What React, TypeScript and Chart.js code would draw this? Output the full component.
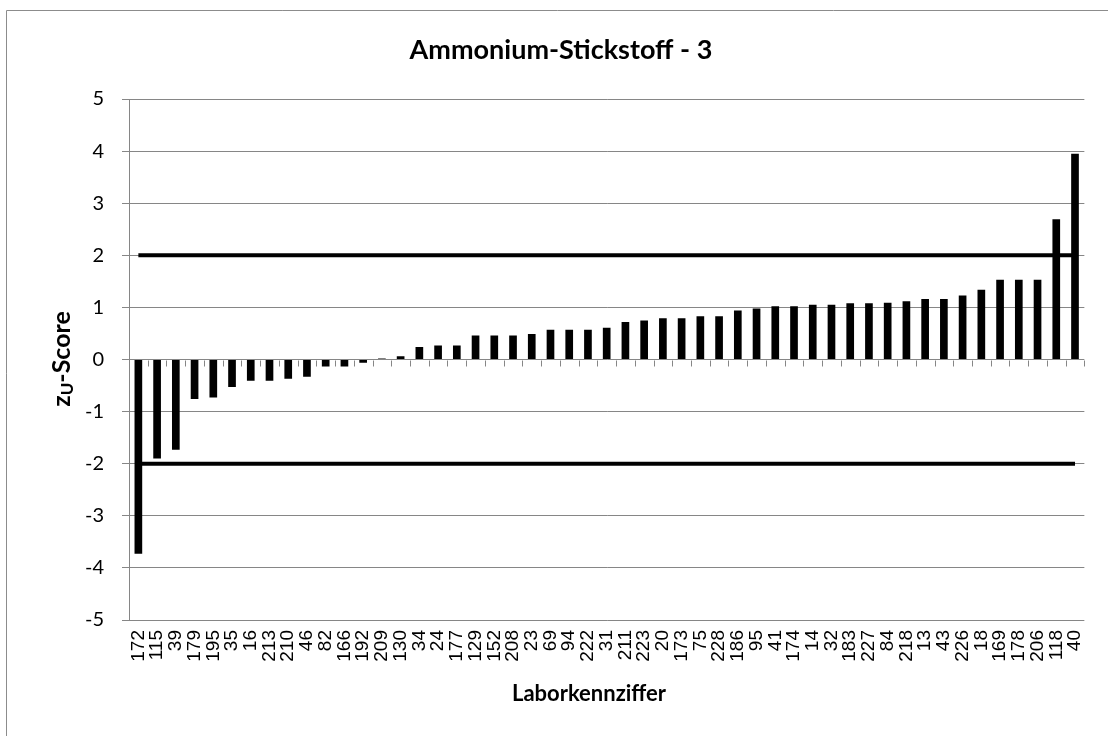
import React, { useEffect, useRef } from "react";
import { Chart, registerables } from "chart.js";

Chart.register(...registerables);

const chartTitle = "Ammonium-Stickstoff - 3";
const xAxisTitle = "Laborkennziffer";

const labCodes = [
  "172", "115", "39", "179", "195", "35", "16", "213", "210", "46",
  "82", "166", "192", "209", "130", "34", "24", "177", "129", "152",
  "208", "23", "69", "94", "222", "31", "211", "223", "20", "173",
  "75", "228", "186", "95", "41", "174", "14", "32", "183", "227",
  "84", "218", "13", "43", "226", "18", "169", "178", "206", "118", "40",
];

const zScores = [
  -3.73, -1.9, -1.73, -0.76, -0.73, -0.53, -0.41, -0.41, -0.37, -0.33,
  -0.135, -0.135, -0.06, 0.02, 0.06, 0.24, 0.27, 0.27, 0.46, 0.46,
  0.46, 0.49, 0.57, 0.57, 0.57, 0.61, 0.72, 0.75, 0.79, 0.79,
  0.83, 0.83, 0.94, 0.98, 1.02, 1.02, 1.05, 1.05, 1.08, 1.08,
  1.09, 1.12, 1.16, 1.16, 1.23, 1.34, 1.53, 1.53, 1.53, 2.69, 3.95,
];

const upperLimitValue = 2;
const lowerLimitValue = -2;
const yTicksMin = -5;
const yTicksMax = 5;

const upperLimit = labCodes.map(() => upperLimitValue);
const lowerLimit = labCodes.map(() => lowerLimitValue);

const decorPlugin = {
  id: "decor",
  beforeDatasetsDraw(chart: any) {
    const { ctx, chartArea, scales } = chart;
    const y0 = Math.round(scales.y.getPixelForValue(0)) + 0.5;
    const n = labCodes.length;
    const w = (chartArea.right - chartArea.left) / n;
    ctx.save();
    ctx.strokeStyle = "#868686";
    ctx.lineWidth = 1;
    ctx.beginPath();
    for (let i = 0; i <= n; i++) {
      const x = Math.round(chartArea.left + i * w) + 0.5;
      ctx.moveTo(x, y0);
      ctx.lineTo(x, y0 + 6);
    }
    ctx.stroke();
    ctx.restore();
  },
  afterDraw(chart: any) {
    const { ctx } = chart;
    ctx.save();
    // outer border
    ctx.strokeStyle = "#8c8c8c";
    ctx.lineWidth = 1;
    ctx.beginPath();
    ctx.moveTo(6.5, 740);
    ctx.lineTo(6.5, 10.5);
    ctx.lineTo(1110, 10.5);
    ctx.stroke();

    ctx.fillStyle = "#000";
    ctx.textAlign = "center";
    ctx.textBaseline = "alphabetic";
    ctx.font = "bold 27px Lato";
    ctx.fillText(chartTitle, 561, 59);
    ctx.font = "bold 22px Lato";
    ctx.fillText(xAxisTitle, 589, 701);

    // y-axis title with subscript
    ctx.translate(70, 359);
    ctx.rotate(-Math.PI / 2);
    const mainFont = "bold 25px Lato";
    const subFont = "bold 17px Lato";
    ctx.font = mainFont;
    const wz = ctx.measureText("z").width;
    const wRest = ctx.measureText("-Score").width;
    ctx.font = subFont;
    const wu = ctx.measureText("U").width;
    const total = wz + wu + wRest;
    let x = -total / 2;
    ctx.textAlign = "left";
    ctx.font = mainFont;
    ctx.fillText("z", x, 0);
    x += wz;
    ctx.font = subFont;
    ctx.fillText("U", x, 3);
    x += wu;
    ctx.font = mainFont;
    ctx.fillText("-Score", x, 0);
    ctx.restore();
  },
};

export default function App() {
  const ref = useRef<HTMLCanvasElement | null>(null);

  useEffect(() => {
    if (!ref.current) return;
    const chart = new Chart(ref.current, {
      type: "bar",
      data: {
        labels: labCodes,
        datasets: [
          {
            type: "line",
            label: "upper",
            data: upperLimit,
            borderColor: "#000",
            borderWidth: 4,
            pointRadius: 0,
            fill: false,
            order: 2,
          } as any,
          {
            type: "line",
            label: "lower",
            data: lowerLimit,
            borderColor: "#000",
            borderWidth: 4,
            pointRadius: 0,
            fill: false,
            order: 2,
          } as any,
          {
            type: "bar",
            label: "z-Score",
            data: zScores,
            backgroundColor: "#000",
            borderWidth: 0,
            barPercentage: 0.41,
            categoryPercentage: 1,
            order: 1,
          },
        ],
      },
      options: {
        animation: false,
        responsive: false,
        maintainAspectRatio: false,
        layout: { padding: { top: 99, right: 20, left: 0, bottom: 0 } },
        plugins: {
          legend: { display: false },
          title: { display: false },
          tooltip: { enabled: false },
        },
        scales: {
          x: {
            grid: { display: false, drawTicks: false },
            border: { display: false },
            ticks: {
              font: { family: "Liberation Sans", size: 19 },
              color: "#000",
              minRotation: 90,
              maxRotation: 90,
              autoSkip: false,
              padding: 10,
            },
            afterFit: (s: any) => {
              s.height = 116;
            },
          },
          y: {
            min: yTicksMin,
            max: yTicksMax,
            ticks: {
              stepSize: 1,
              font: { family: "Lato", size: 20 },
              color: "#000",
              padding: 18,
            },
            grid: { color: "#868686", lineWidth: 1, tickLength: 7 },
            border: { color: "#868686", width: 1 },
            afterFit: (s: any) => {
              s.width = 129;
            },
          },
        },
      },
      plugins: [decorPlugin],
    });
    return () => chart.destroy();
  }, []);

  return (
    <div
      style={{
        position: "fixed",
        left: 0,
        top: 0,
        width: 1108,
        height: 736,
        background: "#fff",
      }}
    >
      <canvas ref={ref} width={1108} height={736} style={{ display: "block" }} />
    </div>
  );
}
